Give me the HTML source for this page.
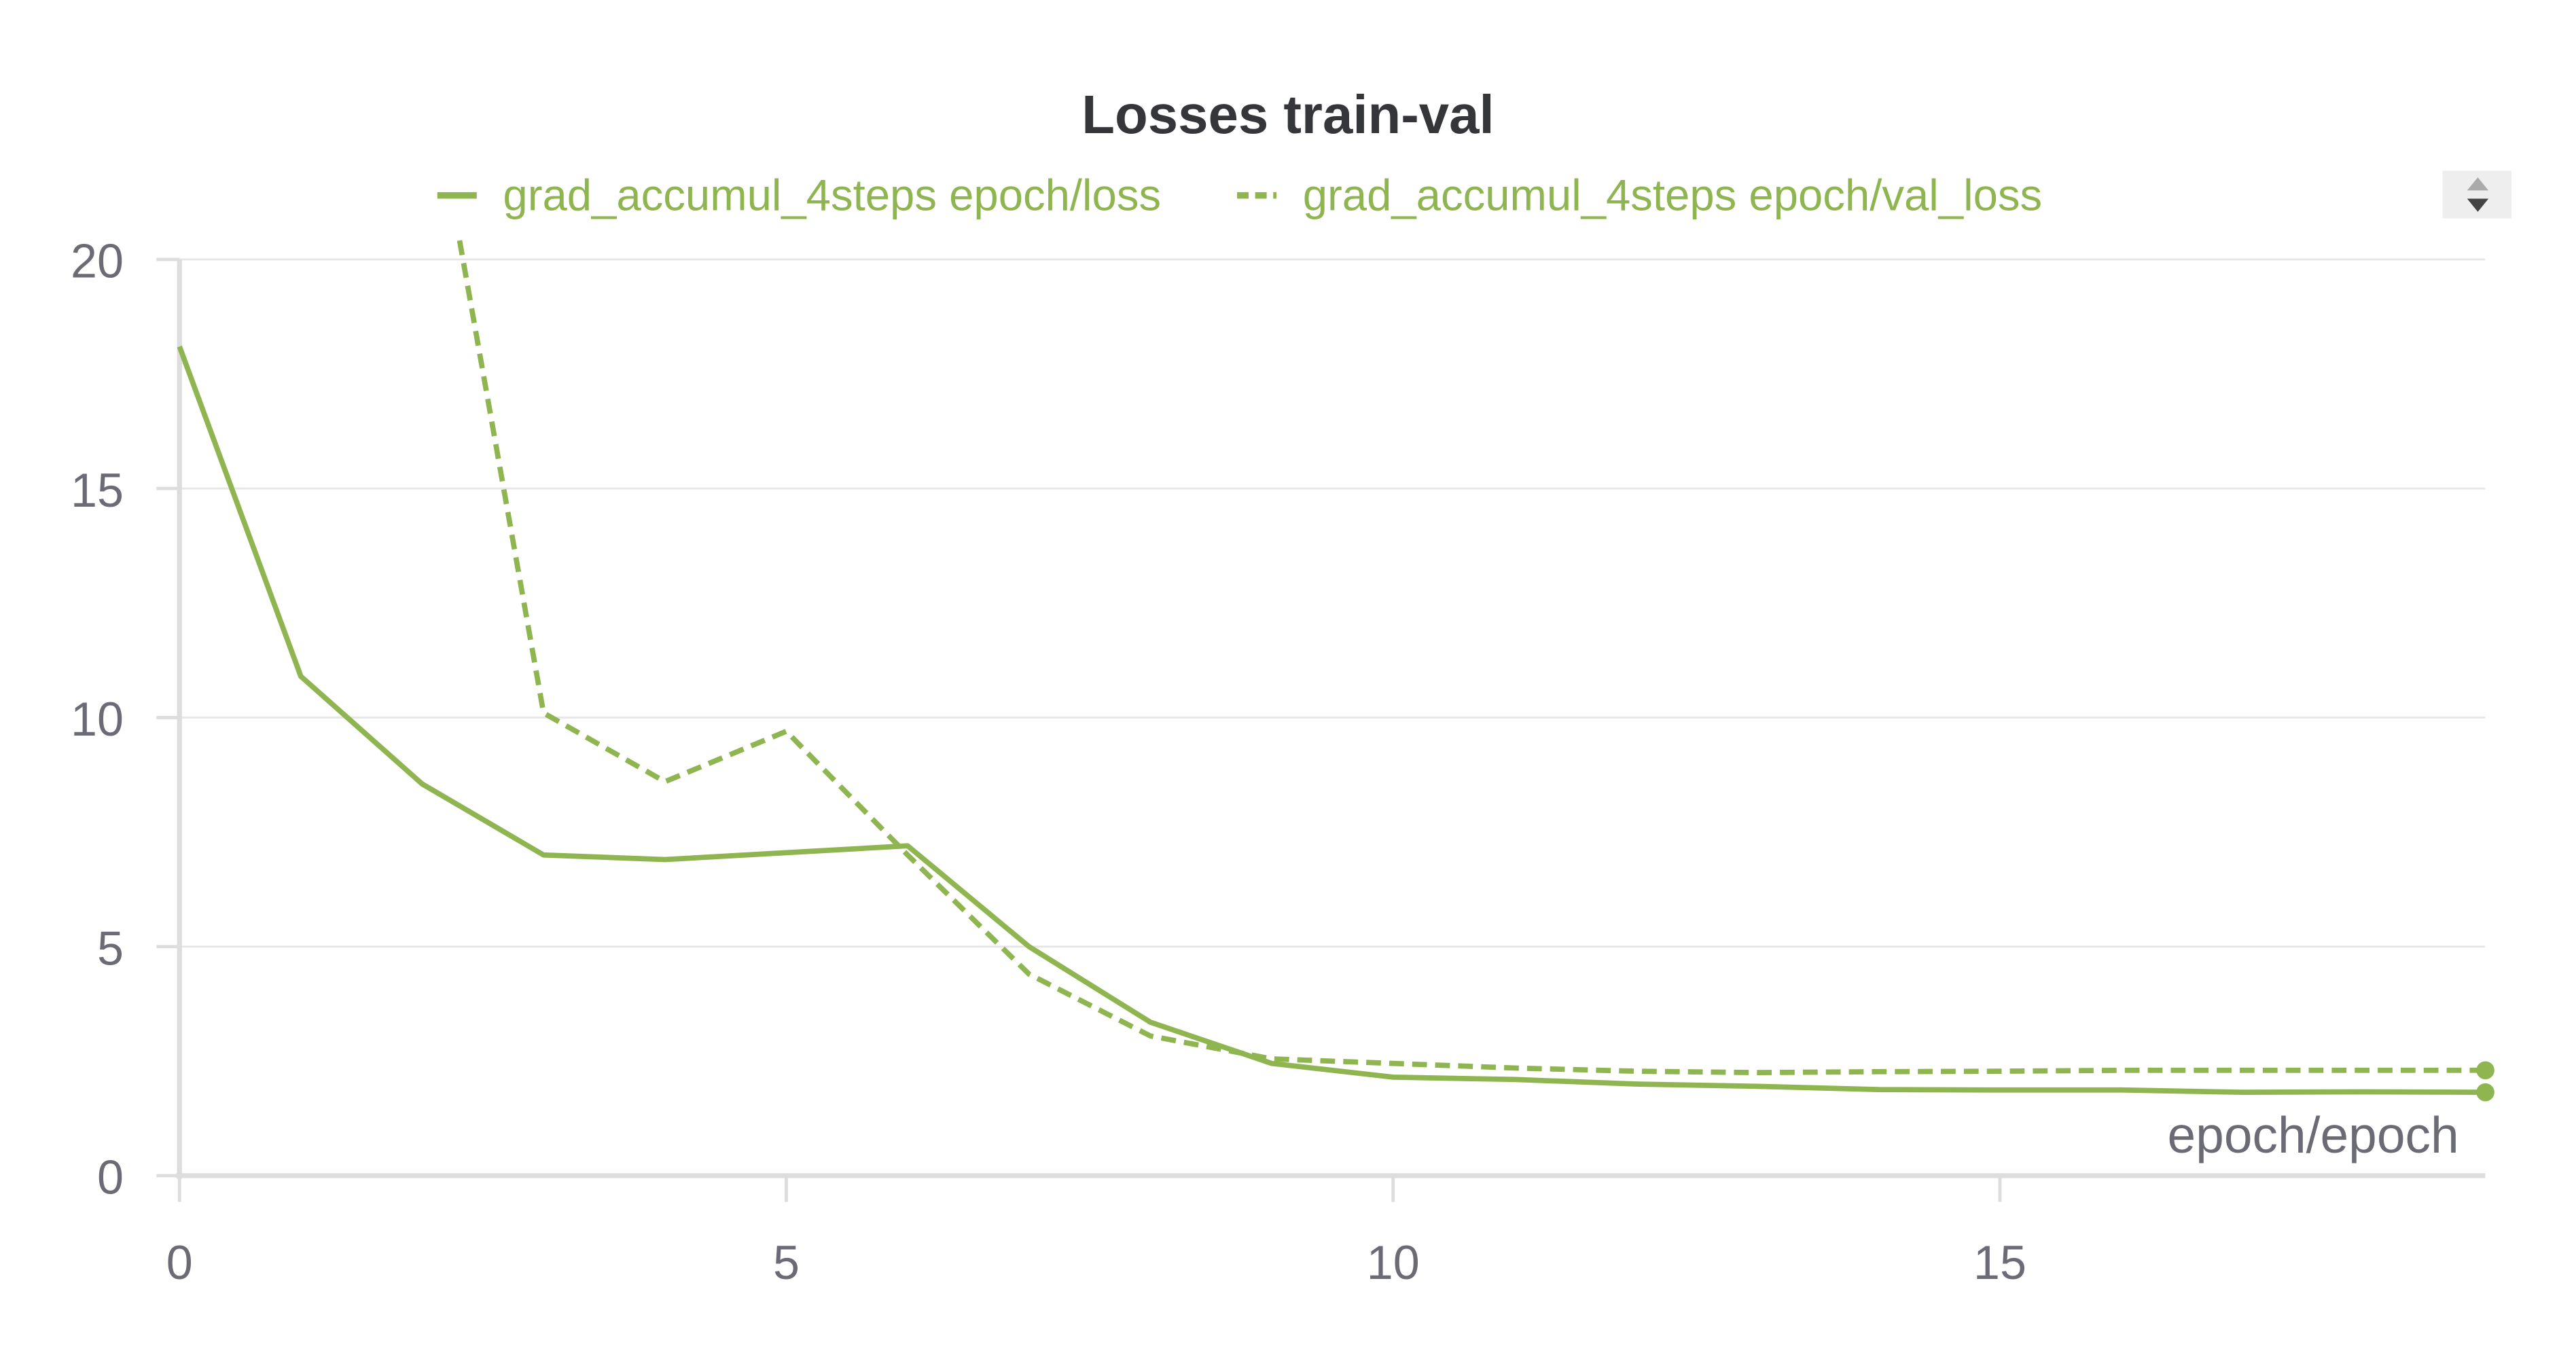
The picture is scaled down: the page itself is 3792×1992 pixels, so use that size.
<!DOCTYPE html>
<html><head><meta charset="utf-8"><style>
html,body{margin:0;padding:0;background:#fff;}
svg{display:block;font-family:"Liberation Sans",sans-serif;}
</style></head><body>
<svg id="chart" width="3792" height="1992" viewBox="0 0 1568 824" xmlns="http://www.w3.org/2000/svg">
<defs><clipPath id="plotclip"><rect x="100" y="144" width="1440" height="574"/></clipPath></defs>
<text x="784" y="81" text-anchor="middle" font-size="33" font-weight="bold" fill="#35363a">Losses train-val</text>
<g>
<g><line x1="266" y1="119" x2="290" y2="119" stroke="#8fb551" stroke-width="4"/><text x="306" y="128" font-size="27" fill="#8fb551">grad_accumul_4steps epoch/loss</text></g>
<g><line x1="753" y1="119" x2="777" y2="119" stroke="#8fb551" stroke-width="4" stroke-dasharray="7,4"/><text x="793" y="128" font-size="27" fill="#8fb551">grad_accumul_4steps epoch/val_loss</text></g>
</g>
<g><rect x="1487" y="104" width="42" height="29" fill="#eeeeee"/><path d="M1502 116 L1515 116 L1508.5 108 Z" fill="#aaa"/><path d="M1502 121 L1515 121 L1508.5 129 Z" fill="#444"/></g>
<g id="grid"></g>
<g id="axes"></g>
<g id="series" clip-path="url(#plotclip)"></g>
<g id="dots"></g>
<text x="1497" y="702" text-anchor="end" font-size="31" fill="#6b6b76">epoch/epoch</text>
</svg>
<script>
const epochs=[0,1,2,3,4,5,6,7,8,9,10,11,12,13,14,15,16,17,18,19];
const trainLoss=[18.1,10.9,8.55,7.0,6.9,7.05,7.2,5.0,3.35,2.45,2.15,2.1,2.0,1.95,1.88,1.87,1.87,1.82,1.83,1.82];
const valLoss=[60,35,25,10.1,8.6,9.7,7.0,4.4,3.05,2.55,2.45,2.35,2.28,2.25,2.27,2.28,2.3,2.3,2.3,2.3];
const xTicks=[0,5,10,15];
const yTicks=[0,5,10,15,20];
const X=v=>109+v*73.9;
const Y=v=>716-v*27.9;
const NS="http://www.w3.org/2000/svg";
function mk(tag,attrs,parent){const e=document.createElementNS(NS,tag);for(const k in attrs)e.setAttribute(k,attrs[k]);parent.appendChild(e);return e;}
const grid=document.getElementById('grid'),axes=document.getElementById('axes'),series=document.getElementById('series'),dots=document.getElementById('dots');
yTicks.forEach(t=>{
 if(t>0){const g=mk('line',{x1:95,x2:1513,y1:Y(t),y2:Y(t),stroke:'#e6e6e6','stroke-width':1.2},grid);
 
 }
 const tk=mk('line',{x1:95,x2:109,y1:Y(t),y2:Y(t),stroke:'#ddd','stroke-width':2},axes);
 
 
 const lb=mk('text',{x:75,y:Y(t)+11,'text-anchor':'end','font-size':29,fill:'#6b6b76'},axes);lb.textContent=t;
 
 
});
xTicks.forEach(t=>{
 const tk=mk('line',{x1:X(t),x2:X(t),y1:716,y2:732,stroke:'#ddd','stroke-width':2},axes);
 
 
 const lb=mk('text',{x:X(t),y:779,'text-anchor':'middle','font-size':29,fill:'#6b6b76'},axes);lb.textContent=t;
 
 
});
const ya=mk('line',{x1:109,x2:109,y1:158,y2:718,stroke:'#dddddd','stroke-width':3},axes);


const xa=mk('line',{x1:107,x2:1513,y1:716,y2:716,stroke:'#dddddd','stroke-width':3},axes);


function pts(arr){return arr.map((v,i)=>X(epochs[i])+','+Y(v)).join(' ');}
const tl=mk('polyline',{points:pts(trainLoss),fill:'none',stroke:'#8fb551','stroke-width':3.2,'stroke-linejoin':'round'},series);


const vl=mk('polyline',{points:pts(valLoss),fill:'none',stroke:'#8fb551','stroke-width':3.2,'stroke-dasharray':'9,5'},series);


const li=epochs.length-1;
const d1=mk('circle',{cx:X(epochs[li]),cy:Y(trainLoss[li]),r:5.5,fill:'#8fb551'},dots);


const d2=mk('circle',{cx:X(epochs[li]),cy:Y(valLoss[li]),r:5.5,fill:'#8fb551'},dots);


</script>
</body></html>
